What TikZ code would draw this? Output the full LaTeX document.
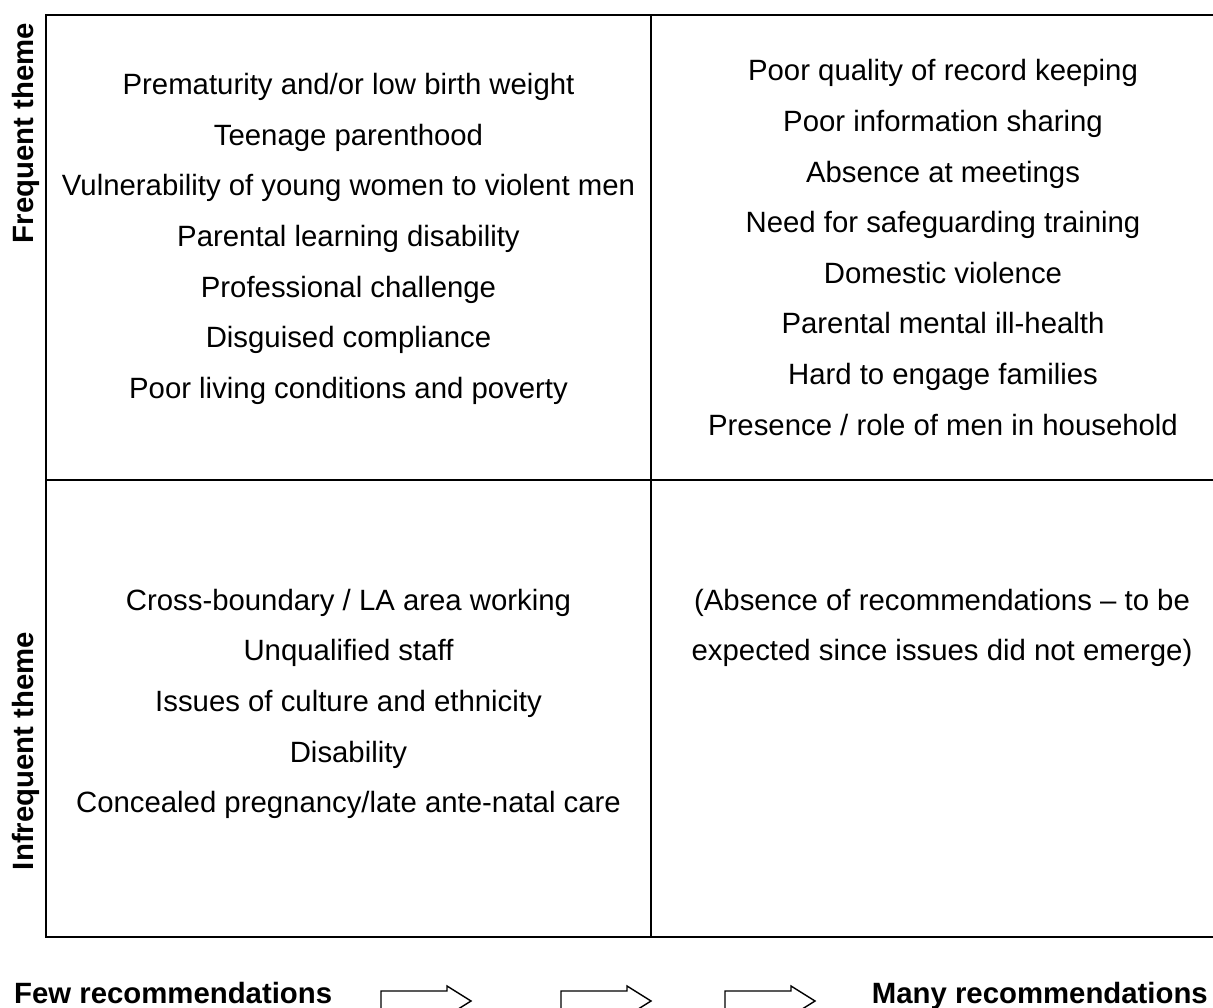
\documentclass[tikz,border=0pt]{standalone}
\usepackage{fontspec}
\setmainfont{Liberation Sans}
\usepackage{tikz}

\begin{document}
\begin{tikzpicture}[x=0.02cm, y=-0.02cm]
    \path[use as bounding box] (0,0) rectangle (1213,1007);
    \clip (0,0) rectangle (1213,1007);

    \tikzset{ cell/.style ={align=center, font=\fontsize{16.7}{28.8}\selectfont} }
    \tikzset{ lbl/.style  ={font=\fontsize{16.7}{20}\selectfont\bfseries} }
    \tikzset{ rule/.style ={line width=1.2pt} }

    % table
    \draw[rule] (45.7,15) rectangle (1240,937);
    \draw[rule] (45.7,480) -- (1240,480);
    \draw[rule] (651,15) -- (651,937);

    \node[cell] (tl) at (348.5, 239.0) {Prematurity and/or low birth weight\\
        Teenage parenthood\\ Vulnerability of young women to violent men\\
        Parental learning disability\\ Professional challenge\\
        Disguised compliance\\ Poor living conditions and poverty};
    \node[cell] (tr) at (943.0, 247.5) {Poor quality of record keeping\\
        Poor information sharing\\ Absence at meetings\\
        Need for safeguarding training\\ Domestic violence\\
        Parental mental ill-health\\ Hard to engage families\\
        Presence / role of men in household};
    \node[cell] (bl) at (348.5, 704.0) {Cross-boundary / LA area working\\
        Unqualified staff\\ Issues of culture and ethnicity\\ Disability\\
        Concealed pregnancy/late ante-natal care};
    \node[cell] (br) at (942.0, 628.0) {(Absence of recommendations – to be\\
        expected since issues did not emerge)};

    \node[lbl, rotate=90, anchor=base] (freq)   at (33, 133) {Frequent theme};
    \node[lbl, rotate=90, anchor=base] (infreq) at (33, 751) {Infrequent theme};

    \node[lbl, anchor=base west] (few)  at (8, 1003)    {Few recommendations};
    \node[lbl, anchor=base east] (many) at (1214, 1003) {Many recommendations};

    % open arrows between the labels
    \foreach \x in {381, 561, 725}
        \draw[line width=0.8pt] (\x,991) -- ++(66,0) -- ++(0,-5) -- (\x+90,1001)
            -- (\x+66,1016) -- ++(0,-5) -- (\x,1011) -- cycle;

  \end{tikzpicture}
\end{document}
